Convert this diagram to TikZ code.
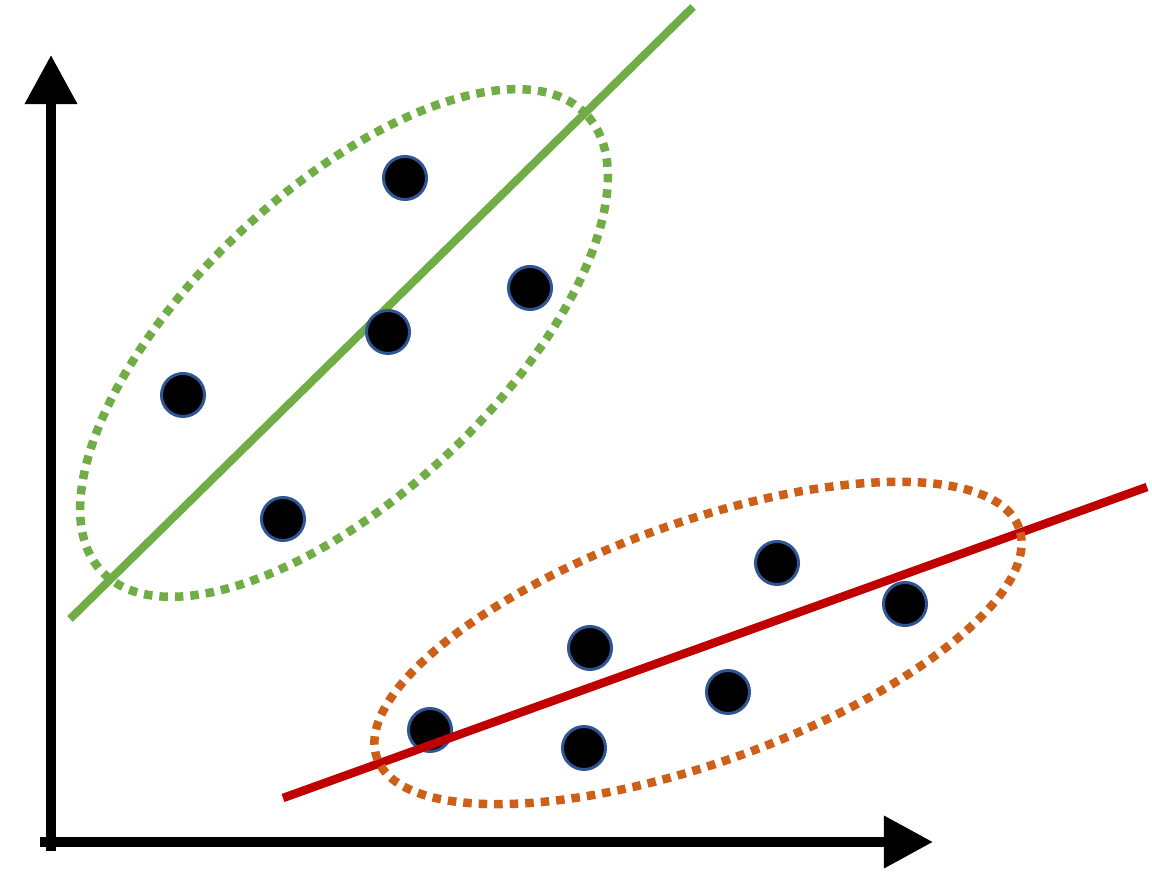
\documentclass[tikz,border=0pt]{standalone}
\definecolor{greencluster}{RGB}{112,173,71}
\definecolor{orangecluster}{RGB}{204,96,24}
\definecolor{redfit}{RGB}{192,0,0}
\definecolor{dotborder}{RGB}{47,85,151}
\usetikzlibrary{arrows.meta}

\begin{document}
\begin{tikzpicture}[x=0.01cm, y=0.01cm,
		axis/.style={line width=1mm, -{Triangle[length=4.9mm, width=5mm]}},
		sample/.style={circle, draw=dotborder, fill=black, line width=0.3mm, minimum size=4.3mm, inner sep=0pt},
		fitline/.style={line width=0.8mm},
		ring/.style={line width=0.85mm, dash pattern=on 0.85mm off 0.7mm}
		]
		\useasboundingbox (0,0) rectangle (1152,894);
		
		% axes
		\coordinate (ybot) at (51,43);
		\coordinate (ytip) at (51,839);
		\coordinate (xleft) at (40,52);
		\coordinate (xtip) at (933,52);
		\draw[axis] (ybot) -- (ytip);
		\draw[axis] (xleft) -- (xtip);
		
		% first cluster
		\coordinate (g0) at (70,275);
		\coordinate (g9) at (693,887);
		\coordinate (gc) at (344,551);
		\draw[fitline, greencluster] (g0) -- (g9);
		\draw[ring, greencluster, rotate around={43.3:(gc)}] (gc) ellipse [x radius=333, y radius=152];
		\foreach \n/\x/\y in {1/405/716, 2/530/606, 3/388/562, 4/183/499, 5/283/375}{
			\node[sample] (g\n) at (\x,\y) {};
		}
		
		% second cluster
		\foreach \n/\x/\y in {1/777/331, 2/905/290, 3/590/246, 4/728/202, 5/430/164, 6/584/146}{
			\node[sample] (r\n) at (\x,\y) {};
		}
		\coordinate (r0) at (283,96);
		\coordinate (r9) at (1147,407);
		\coordinate (rc) at (698,251);
		\draw[fitline, redfit, line width=0.85mm] (r0) -- (r9);
		\draw[ring, orangecluster, rotate around={19.7:(rc)}] (rc) ellipse [x radius=341, y radius=120];
		
	\end{tikzpicture}
\end{document}
